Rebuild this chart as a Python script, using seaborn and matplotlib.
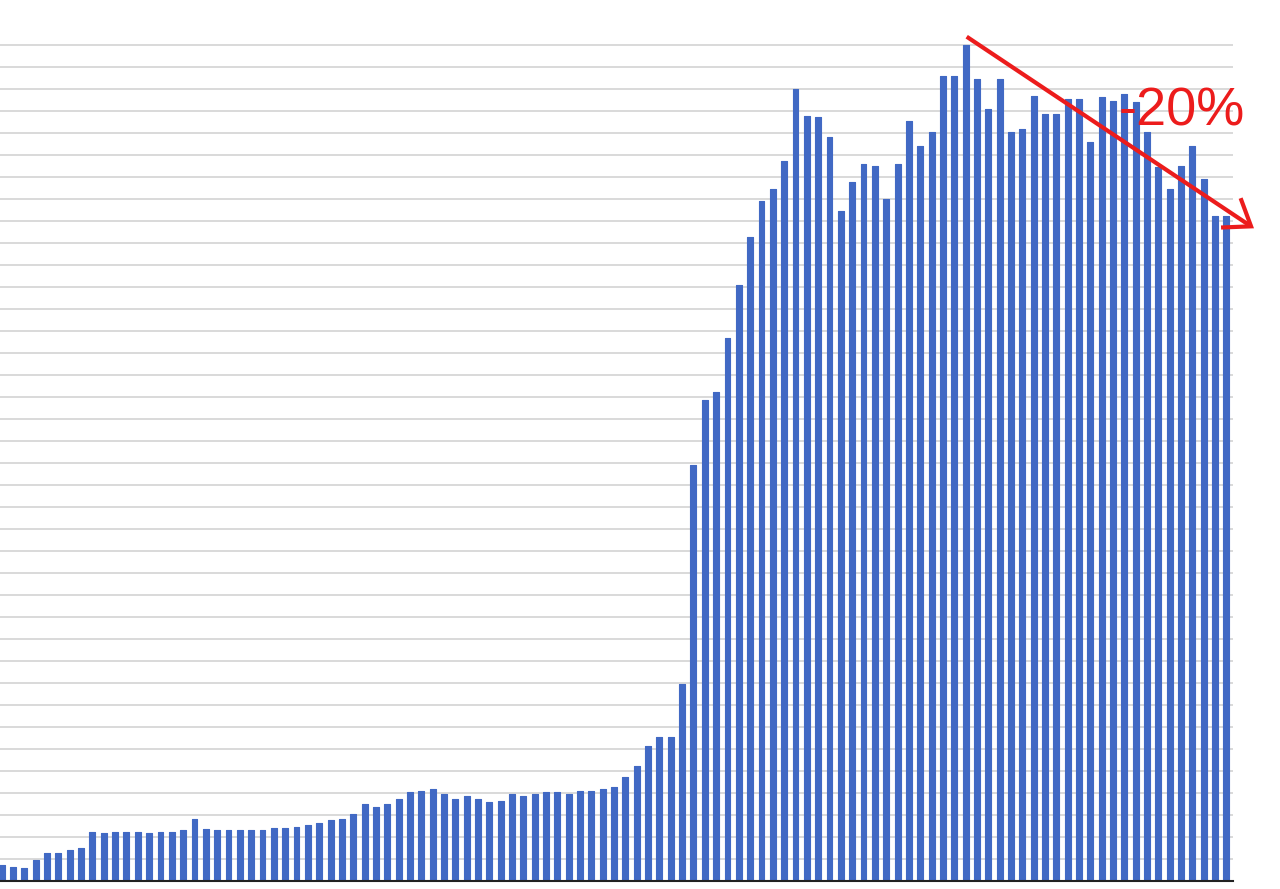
import matplotlib
matplotlib.use("Agg")
import matplotlib.pyplot as plt
from matplotlib.patches import FancyArrowPatch
import seaborn as sns
import pandas as pd

# ---- data (gridline step = 1 unit) ----
values = [
    0.73, 0.65, 0.58, 0.95, 1.26, 1.26, 1.41, 1.48, 2.24, 2.17,
    2.24, 2.24, 2.24, 2.17, 2.24, 2.24, 2.32, 2.82, 2.36, 2.32,
    2.32, 2.32, 2.32, 2.32, 2.39, 2.39, 2.47, 2.55, 2.62, 2.77,
    2.82, 3.05, 3.50, 3.35, 3.50, 3.73, 4.03, 4.11, 4.18, 3.95,
    3.73, 3.88, 3.73, 3.58, 3.65, 3.95, 3.88, 3.95, 4.03, 4.03,
    3.95, 4.11, 4.11, 4.18, 4.26, 4.71, 5.24, 6.15, 6.53, 6.53,
    8.95, 18.90, 21.86, 22.24, 24.67, 27.09, 29.26, 30.92, 31.45, 32.74,
    36.00, 34.79, 34.71, 33.80, 30.47, 31.76, 32.59, 32.52, 31.00, 32.59,
    34.56, 33.42, 34.03, 36.60, 36.60, 38.00, 36.45, 35.09, 36.45, 34.03,
    34.18, 35.70, 34.86, 34.86, 35.55, 35.55, 33.58, 35.62, 35.47, 35.77,
    35.40, 34.03, 32.47, 31.45, 32.50, 33.42, 31.90, 30.24, 30.24,
]
periods = [str(i + 1) for i in range(len(values))]
annotation_text = "-20%"

BAR_COLOR = "#4169C4"
RED = "#EC1C1C"
GRID = "#CFCFCF"

df = pd.DataFrame({"period": periods, "value": values})

sns.set_theme(style="white")
plt.rcParams["font.family"] = ["Liberation Sans", "DejaVu Sans"]

W, H = 1280, 889
fig = plt.figure(figsize=(W / 100, H / 100), dpi=100)
ax = fig.add_axes([0, (H - 881) / H, 1233 / W, (881 - 44) / H])

sns.barplot(data=df, x="period", y="value", color=BAR_COLOR, width=0.52,
            saturation=1, ax=ax, zorder=3)
for p in ax.patches:
    p.set_edgecolor(BAR_COLOR)
    p.set_linewidth(0.8)
    p.set_joinstyle("round")

ax.set_xlim(-0.15, 108.58)
ax.set_ylim(0, 38.05)
ax.set_yticks(range(1, 39))
ax.yaxis.grid(True, color=GRID, linewidth=1.1, zorder=0)
ax.set_axisbelow(True)
ax.tick_params(left=False, bottom=False, labelleft=False, labelbottom=False)
ax.set_xlabel("")
ax.set_ylabel("")
for s in ["left", "right", "top"]:
    ax.spines[s].set_visible(False)
ax.spines["bottom"].set_color("#222222")
ax.spines["bottom"].set_linewidth(1.5)
ax.spines["bottom"].set_zorder(5)

# ---- hand-drawn style trend arrow and label (figure pixel coords) ----
def fx(px):
    return px / W

def fy(py):
    return 1 - py / H

arrow = FancyArrowPatch(
    (fx(966.7), fy(36.7)), (fx(1254), fy(228.3)),
    transform=fig.transFigure,
    arrowstyle="->,head_length=1.75,head_width=1.27",
    mutation_scale=10, lw=3.0, color=RED, shrinkA=0, shrinkB=0,
    capstyle="butt", joinstyle="miter", zorder=10,
)
fig.add_artist(arrow)

fig.text(fx(1182), fy(125.5), annotation_text, ha="center", va="baseline",
         fontsize=39, color=RED, zorder=11)

fig.savefig("out.png", dpi=100, facecolor="white")
